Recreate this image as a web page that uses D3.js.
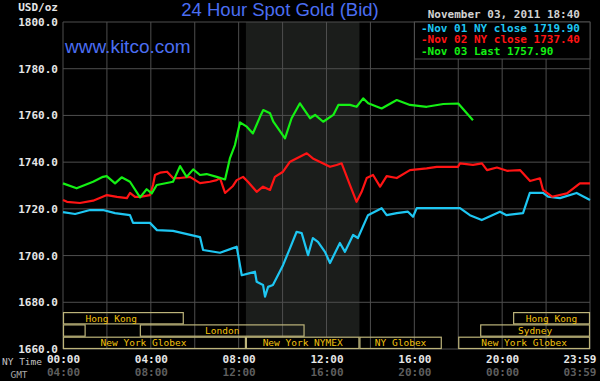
<!DOCTYPE html>
<html>
<head>
<meta charset="utf-8">
<script src="https://cdn.jsdelivr.net/npm/d3@7"></script>
<style>
  html, body { margin: 0; padding: 0; background: #000; }
  svg { display: block; }
</style>
</head>
<body>
<div id="chart"></div>
<script>
// hours (NY time) vs USD/oz
var nov01 = [[0,1718.6],[0.55,1717.8],[1.23,1719.5],[1.82,1719.5],[2.37,1718.2],[3.05,1717.3],[3.19,1714.0],[3.96,1714.0],[4.28,1710.9],[5.01,1710.6],[5.65,1709.2],[6.24,1707.9],[6.38,1702.4],[7.15,1701.2],[7.74,1703.2],[7.91,1703.8],[8.14,1691.6],[8.51,1692.5],[8.74,1693.1],[8.82,1688.8],[9.11,1687.4],[9.20,1682.4],[9.34,1686.6],[9.56,1687.4],[10.02,1695.9],[10.34,1703.2],[10.64,1710.2],[10.87,1709.6],[11.16,1700.2],[11.38,1707.5],[11.61,1705.9],[11.93,1701.6],[12.16,1696.8],[12.61,1705.4],[12.84,1701.6],[13.21,1708.8],[13.43,1707.5],[13.89,1717.3],[14.51,1720.3],[14.74,1717.3],[15.20,1718.2],[15.71,1718.8],[15.94,1716.6],[16.11,1720.3],[16.85,1720.3],[18.08,1720.3],[18.53,1717.3],[19.07,1715.2],[19.90,1718.8],[20.20,1717.3],[20.95,1718.2],[21.26,1726.8],[21.86,1726.8],[22.09,1725.2],[22.63,1724.6],[23.39,1726.8],[24,1723.8]];

var nov02 = [[0,1723.8],[0.18,1723.0],[0.77,1722.5],[1.37,1723.5],[2.00,1725.9],[2.46,1725.1],[2.91,1724.6],[3.05,1726.8],[3.28,1725.1],[3.51,1725.1],[3.96,1725.9],[4.10,1730.2],[4.19,1734.5],[4.42,1735.5],[4.74,1735.9],[5.01,1733.2],[5.33,1733.2],[5.78,1733.7],[6.24,1731.0],[6.69,1731.6],[7.00,1732.3],[7.15,1733.2],[7.38,1726.8],[7.74,1729.8],[7.91,1732.3],[8.20,1733.7],[8.42,1731.6],[8.82,1727.3],[9.11,1729.5],[9.43,1728.1],[9.65,1733.7],[10.02,1735.9],[10.34,1740.2],[11.10,1743.8],[11.38,1741.6],[12.16,1738.0],[12.46,1738.8],[12.69,1739.5],[13.07,1730.2],[13.37,1723.0],[13.60,1727.3],[13.83,1733.2],[14.12,1734.5],[14.44,1729.5],[14.74,1734.0],[15.20,1733.2],[15.80,1736.6],[16.56,1737.3],[17.02,1738.0],[17.99,1738.0],[18.08,1739.5],[18.67,1738.8],[19.08,1739.5],[19.31,1736.6],[19.76,1737.7],[20.22,1736.3],[20.81,1736.6],[21.27,1731.9],[21.72,1733.1],[21.86,1728.1],[22.27,1725.2],[22.95,1726.6],[23.54,1730.9],[24,1730.9]];

var nov03 = [[0,1730.9],[0.62,1728.8],[1.37,1731.6],[1.82,1733.7],[1.99,1734.0],[2.37,1730.9],[2.67,1733.5],[3.05,1731.6],[3.51,1724.9],[3.81,1728.4],[4.04,1726.6],[4.27,1730.2],[5.01,1731.6],[5.33,1738.3],[5.63,1733.7],[5.93,1736.9],[6.24,1734.5],[6.54,1734.9],[7.00,1733.7],[7.38,1732.6],[7.60,1741.6],[7.83,1747.3],[8.06,1757.0],[8.37,1755.2],[8.65,1752.3],[8.97,1759.4],[9.12,1762.3],[9.43,1760.9],[9.58,1757.3],[10.11,1750.2],[10.41,1758.8],[10.79,1765.2],[11.25,1758.8],[11.48,1760.2],[11.85,1757.3],[12.31,1760.2],[12.54,1764.5],[13.07,1764.5],[13.37,1763.7],[13.67,1767.3],[13.90,1765.2],[14.51,1763.0],[15.20,1766.6],[15.80,1764.5],[16.56,1763.7],[17.32,1764.9],[18.00,1765.1],[18.67,1757.9]];

var legendLabels = ["-Nov 01 NY close 1719.90", "-Nov 02 NY close 1737.40", "-Nov 03 Last 1757.90"];
var nyTicks = [0, 4, 8, 12, 16, 20, 24];
var nyLabels = ["00:00", "04:00", "08:00", "12:00", "16:00", "20:00", "23:59"];
var gmtLabels = ["04:00", "08:00", "12:00", "16:00", "20:00", "00:00", "03:59"];
var yTicks = [1660, 1680, 1700, 1720, 1740, 1760, 1780, 1800];
var nymexHours = [8.33, 13.5];
// [row, start hour, end hour, name]
var sessions = [
  [0, -1.1, 5.5, "Hong Kong"],
  [0, 20.5, 24, "Hong Kong"],
  [1, -1, 1.03, ""],
  [1, 3.5, 11, "London"],
  [1, 19, 24, "Sydney"],
  [2, -1, 8.33, "New York Globex"],
  [2, 8.33, 13.5, "New York NYMEX"],
  [2, 13.5, 17.25, "NY Globex"],
  [2, 18, 24, "New York Globex"]
];

var width = 600, height = 381;
var colors = ["#1ec6f2", "#ff1414", "#14f014"];
var mono = "'DejaVu Sans Mono', monospace";

var x = d3.scaleLinear().domain([0, 24]).range([63, 590]);
var y = d3.scaleLinear().domain([1660, 1800]).range([349, 22]);

var svg = d3.select("#chart").append("svg").attr("width", width).attr("height", height);
svg.append("rect").attr("width", width).attr("height", height).attr("fill", "#000");

// NYMEX pit hours
svg.append("rect")
  .attr("x", x(nymexHours[0])).attr("y", y(1800))
  .attr("width", x(nymexHours[1]) - x(nymexHours[0]))
  .attr("height", y(1660) - y(1800))
  .attr("fill", "#1b1d1b");

// grid
svg.append("g").selectAll("line").data(yTicks).enter().append("line")
  .attr("x1", x(0)).attr("x2", x(24))
  .attr("y1", function(d) { return y(d); }).attr("y2", function(d) { return y(d); })
  .attr("stroke", "#4e4e4e").attr("stroke-width", 1);
svg.append("g").selectAll("line").data(d3.range(0, 25, 2)).enter().append("line")
  .attr("x1", function(d) { return x(d); }).attr("x2", function(d) { return x(d); })
  .attr("y1", y(1800)).attr("y2", y(1660))
  .attr("stroke", "#4e4e4e").attr("stroke-width", 1);

// market session boxes
var rowH = 12.3;
var rowTop = function(r) { return y(1660) - (3 - r) * rowH; };
var sess = svg.append("g").selectAll("g").data(sessions).enter().append("g");
sess.append("rect")
  .attr("x", function(d) { return x(Math.max(0, d[1])) + 0.5; })
  .attr("y", function(d) { return rowTop(d[0]) + 0.5; })
  .attr("width", function(d) { return x(Math.min(24, d[2])) - x(Math.max(0, d[1])) - 1; })
  .attr("height", rowH - 1)
  .attr("fill", function(d) { return d[3] === "New York NYMEX" ? "#000" : "none"; })
  .attr("stroke", "#bdb47a").attr("stroke-width", 1.2);
sess.append("text")
  .attr("x", function(d) { return x((d[1] + d[2]) / 2); })
  .attr("y", function(d) { return rowTop(d[0]) + rowH / 2 + 3.5; })
  .attr("text-anchor", "middle")
  .attr("font-family", mono).attr("font-size", "9.5px")
  .attr("fill", "#f2c20e")
  .text(function(d) { return d[3]; });

// price lines
var line = d3.line().x(function(d) { return x(d[0]); }).y(function(d) { return y(d[1]); });
[nov01, nov02, nov03].forEach(function(s, i) {
  svg.append("path").datum(s)
    .attr("d", line)
    .attr("fill", "none")
    .attr("stroke", colors[i])
    .attr("stroke-width", 2.2)
    .attr("stroke-linejoin", "round");
});

// y axis
var yAxis = svg.append("g")
  .attr("transform", "translate(" + x(0) + ",0)")
  .call(d3.axisLeft(y).tickValues(yTicks).tickFormat(d3.format(".1f")).tickSize(0).tickPadding(5));
yAxis.select(".domain").remove();
yAxis.selectAll("text")
  .attr("font-family", mono).attr("font-size", "11px").attr("font-weight", "bold")
  .attr("fill", "#e6e6e6");

// x axes: NY time and GMT
var xAxis = svg.append("g")
  .attr("transform", "translate(0,355)")
  .call(d3.axisBottom(x).tickValues(nyTicks).tickSize(0).tickPadding(0)
    .tickFormat(function(d, i) { return nyLabels[i]; }));
xAxis.select(".domain").remove();
xAxis.selectAll("text")
  .attr("font-family", mono).attr("font-size", "11px").attr("font-weight", "bold")
  .attr("fill", "#e6e6e6");

var gAxis = svg.append("g")
  .attr("transform", "translate(0,368)")
  .call(d3.axisBottom(x).tickValues(nyTicks).tickSize(0).tickPadding(0)
    .tickFormat(function(d, i) { return gmtLabels[i]; }));
gAxis.select(".domain").remove();
gAxis.selectAll("text")
  .attr("font-family", mono).attr("font-size", "11px").attr("font-weight", "bold")
  .attr("fill", "#5e5e5e");
[xAxis, gAxis].forEach(function(a) {
  a.selectAll(".tick").filter(function(d) { return d === 24; }).select("text")
    .attr("text-anchor", "end").attr("dx", 6);
});

svg.append("text").attr("x", 22).attr("y", 365).attr("text-anchor", "middle")
  .attr("font-family", mono).attr("font-size", "9.5px").attr("fill", "#c4c4c4").text("NY Time");
svg.append("text").attr("x", 19).attr("y", 378).attr("text-anchor", "middle")
  .attr("font-family", mono).attr("font-size", "9.5px").attr("fill", "#a8a8a8").text("GMT");

svg.append("text").attr("x", 58).attr("y", 11).attr("text-anchor", "end")
  .attr("font-family", mono).attr("font-size", "11px").attr("font-weight", "bold")
  .attr("fill", "#e6e6e6").text("USD/oz");

// titles
svg.append("text").attr("x", 280).attr("y", 16).attr("text-anchor", "middle")
  .attr("font-family", "'Liberation Sans', Arial, sans-serif").attr("font-size", "18.5px")
  .attr("fill", "#4b6ef2").text("24 Hour Spot Gold (Bid)");
svg.append("text").attr("x", 65).attr("y", 52.5)
  .attr("font-family", "'Liberation Sans', Arial, sans-serif").attr("font-size", "19px")
  .attr("fill", "#4b6ef2").text("www.kitco.com");
svg.append("text").attr("x", 580).attr("y", 18).attr("text-anchor", "end")
  .attr("font-family", mono).attr("font-size", "11px").attr("font-weight", "bold")
  .attr("fill", "#d2d2d2").text("November 03, 2011 18:40");

// legend
svg.append("rect").attr("x", 414.5).attr("y", y(1800))
  .attr("width", x(24) - 414.5).attr("height", 37)
  .attr("fill", "#000").attr("stroke", "#4e4e4e");
svg.append("g").selectAll("text").data(legendLabels).enter().append("text")
  .attr("x", 421).attr("y", function(d, i) { return 31.5 + i * 11.8; })
  .attr("font-family", mono).attr("font-size", "11px").attr("font-weight", "bold")
  .attr("fill", function(d, i) { return colors[i]; })
  .text(function(d) { return d; });
</script>
</body>
</html>
